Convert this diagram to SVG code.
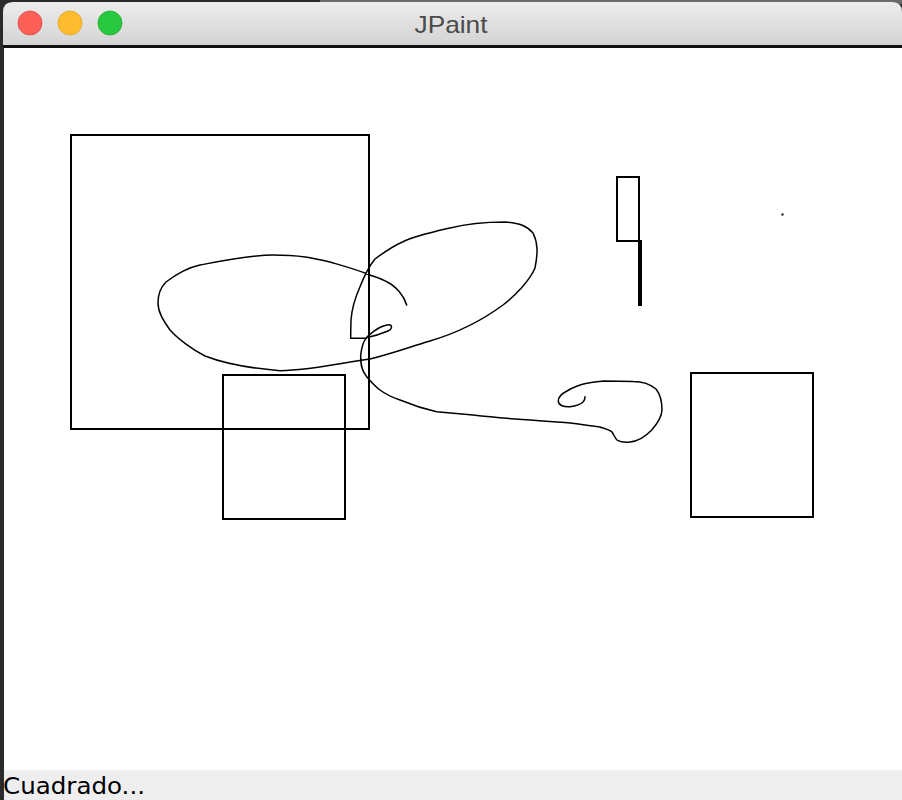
<svg xmlns="http://www.w3.org/2000/svg" width="902" height="800" viewBox="0 0 902 800">
<defs>
<linearGradient id="tb" x1="0" y1="0" x2="0" y2="1">
<stop offset="0" stop-color="#ececec"/>
<stop offset="1" stop-color="#d2d2d2"/>
</linearGradient>
<style>
.shape{fill:none;stroke:#000;stroke-width:2}
.free{fill:none;stroke:#000;stroke-width:1.5;stroke-linejoin:round;stroke-linecap:round}
</style>
</defs>
<rect x="0" y="0" width="902" height="800" fill="#2a2a2a"/>
<rect x="320" y="0" width="582" height="4" fill="#6a6a6a"/>
<g id="window">
<path d="M3 48 V12 Q3 2 13 2 H892 Q902 2 902 12 V48 Z" fill="url(#tb)"/>
<rect x="3" y="45" width="899" height="3" fill="#111"/>
<rect x="4" y="48" width="898" height="722" fill="#fff"/>
<rect x="4" y="770" width="898" height="30" fill="#eeeeee"/>
</g>
<g id="buttons">
<circle cx="30" cy="23" r="12" fill="#fe5f57" stroke="#e0443e" stroke-width="0.8"/>
<circle cx="70" cy="23" r="12" fill="#febc2e" stroke="#dea123" stroke-width="0.8"/>
<circle cx="110" cy="23" r="12" fill="#28c840" stroke="#1aab29" stroke-width="0.8"/>
</g>
<text id="title" x="451" y="33" font-family="Liberation Sans, Arial, sans-serif" font-size="24" fill="#4a4a4a" text-anchor="middle" textLength="73" lengthAdjust="spacingAndGlyphs">JPaint</text>
<g id="drawing">
<rect class="shape" x="71" y="135" width="298" height="294"/>
<rect class="shape" x="223" y="375" width="122" height="144"/>
<rect class="shape" x="691" y="373" width="122" height="144"/>
<rect class="shape" x="617" y="177" width="22" height="64"/>
<rect x="638" y="240" width="4" height="66" fill="#000"/>
<rect x="781.5" y="213.5" width="2" height="2" fill="#000"/>
<path class="free" d="M406.7 305 C404 296 396 286 386.7 281.7 C378 277 372 276 370 275 C358 270 346 266.7 330 262 C313 258 300 255 273 255 C252 255 226.7 260 200 265 C186 268 173 276.7 166 282 C160 288 158 296 158 303 C158 312 163 320 170 330 C178 339 193 350 205 356 C223 363 246.7 368 280 370.7 C313 370 340 363 370 359 C390 354 406.7 348 430 341 C456.7 333 480 322 503 305 C516 295 530 280 535 268 C538 253 538 243 533 233 C527 226 520 223 505 222 C490 222 470 223 450 228 C433 232 415 236 403 241.7 C393 246 383 253 375 259 C370 265 365 274 360 286.7 C355 298 351.7 310 351 320 C350.7 330 350.7 338 350.7 338.3 L366 338 C369 335 374 330 382 326.5 C386 325 390 324.5 391 325.5 C392 327 391.5 329.5 388 331 C382 333.5 375 336 367 337.5 C363 341 361.7 346.7 360.7 355 C360.5 363 361 370 366.7 376.7 C372 383 376 387 380 390 C388 396 394 398 400 400 C412 405 420 408 436.7 411.7 C450 413 462 414 473 415 C490 417 500 418 530 420 C550 422 560 422 570 423 C585 425 595 426 600 427 C606 429 610 430 612 432 C614 435 615 438 617 440 C620 442 625 442.5 630 442 C640 441 646 436 651.7 430 C657 424 661.7 418 662 410 C662 400 660 394 656 389 C650 384 642 381.5 633.3 381.5 C620 381 610 381 603.3 381 C595 382 590 382.5 586.7 383.3 C578 385 572 388 567 391 C561 394 558.3 398 558.3 401 C558.3 405 563 407 570 406.7 C576 406 581 404 583.3 401.7 C585 400 585 398 585 396.7"/>
</g>
<text id="status" x="3" y="794" font-family="DejaVu Sans, Verdana, sans-serif" font-size="23" fill="#000" textLength="142" lengthAdjust="spacingAndGlyphs">Cuadrado...</text>
</svg>
